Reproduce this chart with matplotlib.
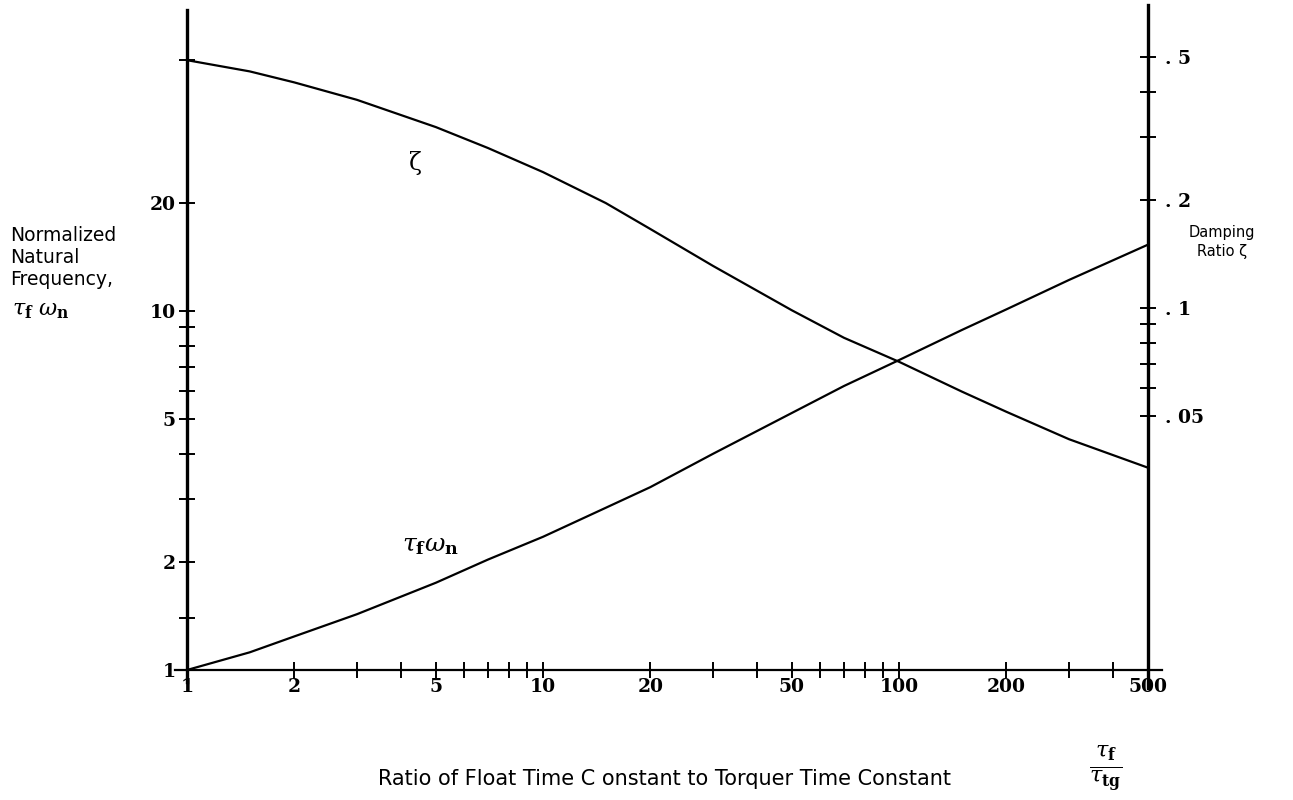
import matplotlib
matplotlib.use("Agg")
import matplotlib.pyplot as plt
from matplotlib.ticker import FixedLocator, FixedFormatter, NullFormatter

# data
ratio = [1, 1.5, 2, 3, 5, 7, 10, 15, 20, 30, 50, 70, 100, 150, 200, 300, 500]
freq = [1.0, 1.12, 1.24, 1.43, 1.75, 2.03, 2.35, 2.83, 3.23, 4.0, 5.2, 6.18, 7.3, 8.85,
        10.1, 12.2, 15.3]
zeta = [0.49, 0.456, 0.425, 0.38, 0.319, 0.279, 0.239, 0.196, 0.166, 0.131, 0.0985, 0.0826,
        0.0708, 0.0585, 0.0514, 0.0431, 0.0359]

x_major = [1, 2, 5, 10, 20, 50, 100, 200, 500]
x_labels = ["1", "2", "5", "10", "20", "50", "100", "200", "500"]
x_minor = [3, 4, 6, 7, 8, 9, 30, 40, 60, 70, 80, 90, 300, 400]
left_major = [1, 2, 5, 10, 20]
left_labels = ["1", "2", "5", "10", "20"]
left_minor = [1.4, 3, 4, 6, 7, 8, 9, 50]
right_major = [0.05, 0.1, 0.2, 0.5]
right_labels = [". 05", ". 1", ". 2", ". 5"]
right_minor = [0.06, 0.07, 0.08, 0.09, 0.3, 0.4]

plt.rcParams["mathtext.fontset"] = "dejavuserif"

fig = plt.figure(figsize=(12.93, 8.0), dpi=100)
ax1 = fig.add_axes([187 / 1293, 1 - 670 / 800, 961 / 1293, 660 / 800])
ax2 = ax1.twinx()

ax1.set_xscale("log")
ax1.set_yscale("log")
ax2.set_yscale("log")
ax1.set_xlim(1, 500)
ax1.set_ylim(1, 68.9)
ax2.set_ylim(0.00981, 0.676)

ax1.plot(ratio, freq, color="black", lw=1.6, solid_capstyle="butt")
ax2.plot(ratio, zeta, color="black", lw=1.6, solid_capstyle="butt")

for a in (ax1, ax2):
    for s in a.spines.values():
        s.set_visible(False)

# axis lines that run a bit past each other, as in the drawing
ax1.plot([0, 0], [-0.018, 1.0], transform=ax1.transAxes, color="black", lw=2.4, clip_on=False)
ax1.plot([1, 1], [-0.027, 1.007], transform=ax1.transAxes, color="black", lw=2.4, clip_on=False)
ax1.plot([-0.0125, 1.0146], [0, 0], transform=ax1.transAxes, color="black", lw=1.6, clip_on=False)

tick_font = {"family": "DejaVu Serif", "weight": "bold", "size": 13.5}

ax1.xaxis.set_major_locator(FixedLocator(x_major))
ax1.xaxis.set_major_formatter(FixedFormatter(x_labels))
ax1.xaxis.set_minor_locator(FixedLocator(x_minor))
ax1.xaxis.set_minor_formatter(NullFormatter())
ax1.yaxis.set_major_locator(FixedLocator(left_major))
ax1.yaxis.set_major_formatter(FixedFormatter(left_labels))
ax1.yaxis.set_minor_locator(FixedLocator(left_minor))
ax1.yaxis.set_minor_formatter(NullFormatter())
ax2.yaxis.set_major_locator(FixedLocator(right_major))
ax2.yaxis.set_major_formatter(FixedFormatter(right_labels))
ax2.yaxis.set_minor_locator(FixedLocator(right_minor))
ax2.yaxis.set_minor_formatter(NullFormatter())

ax1.tick_params(axis="both", which="both", direction="inout", length=12, width=1.4)
ax1.tick_params(axis="x", which="major", pad=0)
ax1.tick_params(axis="y", which="major", pad=2)
ax2.tick_params(axis="y", which="both", direction="inout", length=12, width=1.4, pad=6)
for lab in ax1.get_xticklabels() + ax1.get_yticklabels() + ax2.get_yticklabels():
    lab.set_fontproperties(tick_font)

# axis titles
fig.text(10 / 1293, 1 - 226 / 800, "Normalized\nNatural\nFrequency,", ha="left", va="top",
         fontsize=13.5, linespacing=1.2)
fig.text(12 / 1293, 1 - 311 / 800, r"$\tau_\mathbf{f}\ \omega_\mathbf{n}$", ha="left",
         va="center", fontsize=16)
fig.text(1222 / 1293, 1 - 242 / 800, "Damping\nRatio ζ", ha="center", va="center",
         fontsize=10.5, linespacing=1.4)
fig.text(378 / 1293, 1 - 779 / 800, "Ratio of Float Time C onstant to Torquer Time Constant",
         ha="left", va="center", fontsize=15)
fig.text(1106 / 1293, 1 - 768 / 800, r"$\frac{\tau_\mathbf{f}}{\tau_\mathbf{tg}}$",
         ha="center", va="center", fontsize=23)

# curve labels
fig.text(415 / 1293, 1 - 163 / 800, "ζ", ha="center", va="center", fontsize=17,
         family="DejaVu Serif")
fig.text(430 / 1293, 1 - 545 / 800, r"$\tau_\mathbf{f}\omega_\mathbf{n}$", ha="center",
         va="center", fontsize=18)

fig.savefig("out.png", dpi=100)
